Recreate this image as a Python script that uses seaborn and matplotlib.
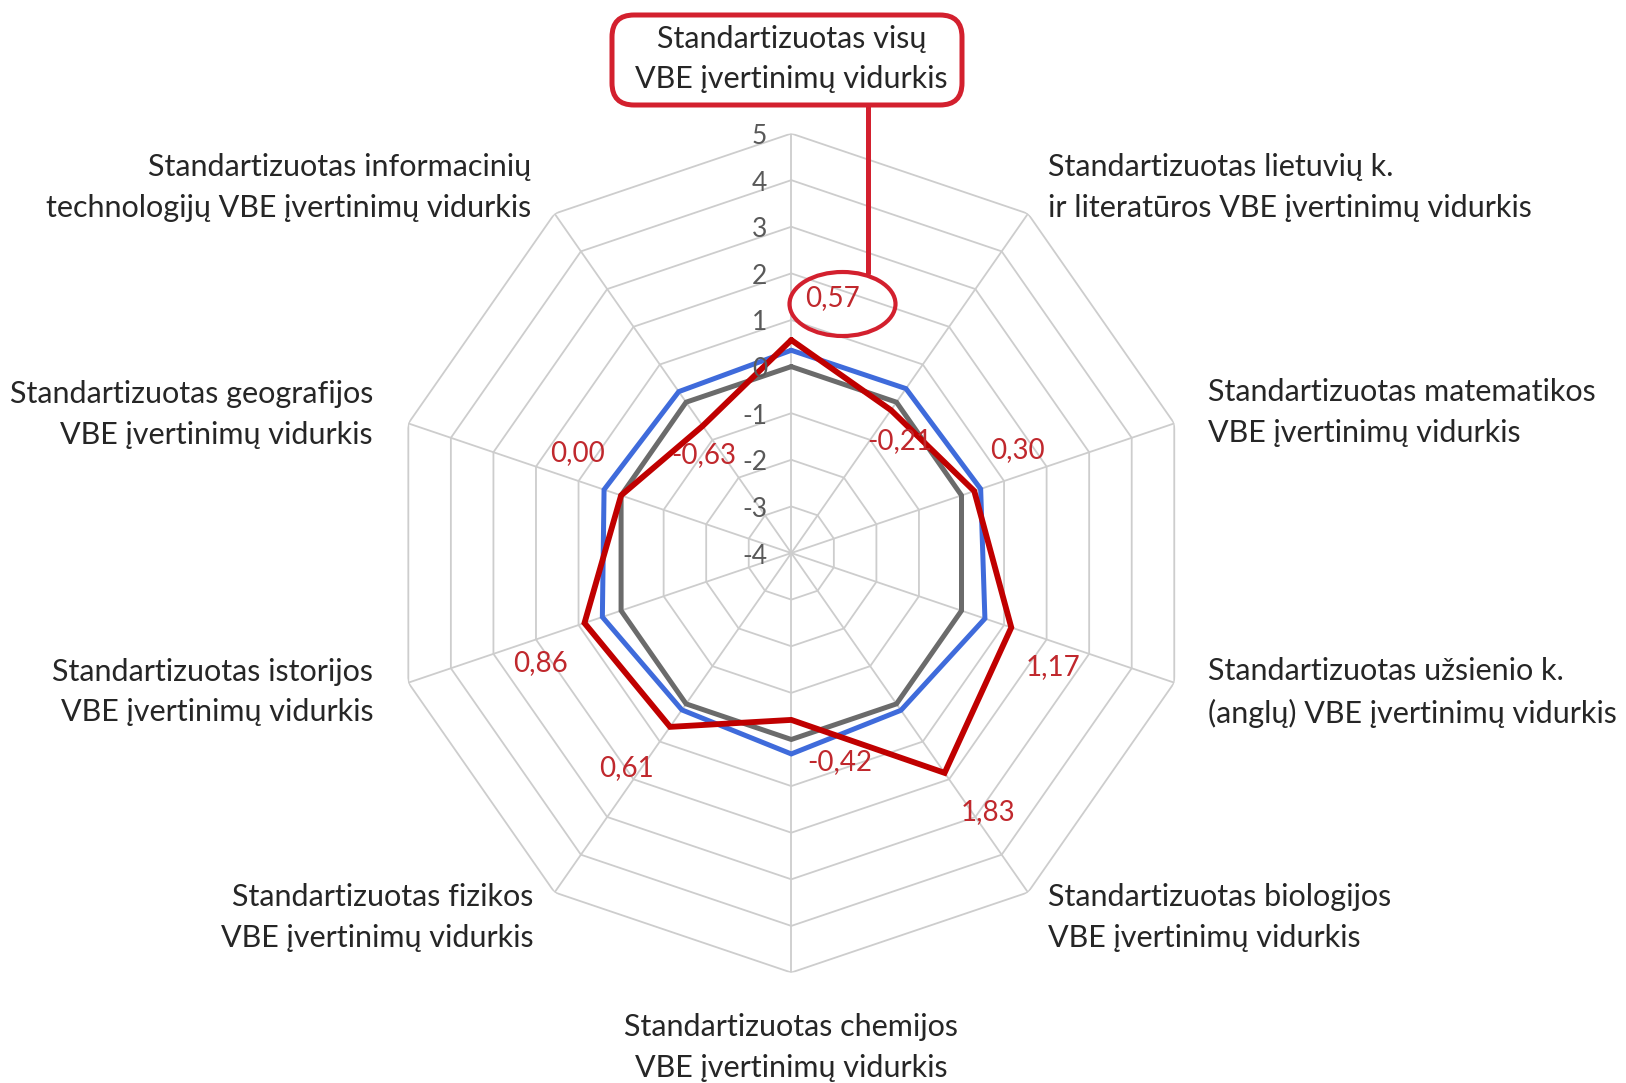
import numpy as np
import pandas as pd
import seaborn as sns
import matplotlib.pyplot as plt
from matplotlib.patches import Ellipse, FancyBboxPatch
from matplotlib.lines import Line2D

sns.set_theme(style="white")
plt.rcParams['font.family'] = ['Lato', 'DejaVu Sans']

# categories, clockwise from the top
categories = [
    "Standartizuotas visų\nVBE įvertinimų vidurkis",
    "Standartizuotas lietuvių k.\nir literatūros VBE įvertinimų vidurkis",
    "Standartizuotas matematikos\nVBE įvertinimų vidurkis",
    "Standartizuotas užsienio k.\n(anglų) VBE įvertinimų vidurkis",
    "Standartizuotas biologijos\nVBE įvertinimų vidurkis",
    "Standartizuotas chemijos\nVBE įvertinimų vidurkis",
    "Standartizuotas fizikos\nVBE įvertinimų vidurkis",
    "Standartizuotas istorijos\nVBE įvertinimų vidurkis",
    "Standartizuotas geografijos\nVBE įvertinimų vidurkis",
    "Standartizuotas informacinių\ntechnologijų VBE įvertinimų vidurkis",
]
gray_vals = [0.00, 0.00, 0.00, 0.00, 0.00, 0.00, 0.00, 0.00, 0.00, 0.00]
blue_vals = [0.35, 0.36, 0.45, 0.55, 0.17, 0.31, 0.16, 0.44, 0.40, 0.28]
red_vals = [0.57, -0.21, 0.30, 1.17, 1.83, -0.42, 0.61, 0.86, 0.00, -0.63]
r_ticks = [-4, -3, -2, -1, 0, 1, 2, 3, 4, 5]

# layout only: where the category labels and the value labels sit
label_pos = [(0, 6.60, 'center'), (36.2, 5.71, 'left'), (72.1, 5.79, 'left'),
             (107.8, 5.78, 'left'), (143.7, 5.70, 'left'), (180, 6.61, 'center'),
             (216.4, 5.72, 'right'), (252.3, 5.81, 'right'), (287.6, 5.81, 'right'),
             (323.4, 5.76, 'right')]
value_offsets = [(41, 42), (9, -31), (43, 41), (42, -40), (43, -39),
                 (48, -42), (-44, -41), (-44, -40), (-44, 42), (1, -29)]

n = len(categories)
theta = np.linspace(0, 2 * np.pi, n, endpoint=False)
theta_c = np.append(theta, theta[0] + 2 * np.pi)

W, H = 1626, 1083
fig = plt.figure(figsize=(W / 100, H / 100), dpi=100)
fig.patch.set_facecolor('white')
ax = fig.add_axes([0.2390, 0.1020, 0.4953, 0.7747], projection='polar')
ax.set_theta_zero_location('N')
ax.set_theta_direction(-1)
ax.set_ylim(-4, 5)
ax.set_aspect('auto')
ax.grid(False)
ax.set_xticks([])
ax.set_yticks([])
ax.spines['polar'].set_visible(False)
ax.patch.set_alpha(0)

grid_col = '#CDCDCD'
for lev in r_ticks[1:]:
    ax.plot(theta_c, [lev] * (n + 1), color=grid_col, lw=1.3, zorder=1)
for t in theta:
    ax.plot([t, t], [-4, 5], color=grid_col, lw=1.3, zorder=1)

# series
series = [('Lietuva', gray_vals, '#6B6B6B', 3.6),
          ('Savivaldybė', blue_vals, '#3F6BDB', 3.6),
          ('Mokykla', red_vals, '#C00000', 4.2)]
for name, vals, col, lw in series:
    df = pd.DataFrame({'theta': theta_c, 'value': np.append(vals, vals[0])})
    sns.lineplot(data=df, x='theta', y='value', ax=ax, sort=False, estimator=None,
                 color=col, lw=lw, solid_joinstyle='miter', zorder=3)
ax.set_xlabel('')
ax.set_ylabel('')

# radial tick labels along the top spoke
for v in r_ticks:
    ax.annotate(str(v), (0, v), xytext=(-24 * 0.72, -3 * 0.72), textcoords='offset points',
                ha='right', va='center', fontsize=19, color='#595959')

# value labels of the red series
for t, v, (dx, dy) in zip(theta, red_vals, value_offsets):
    ax.annotate(f"{v:.2f}".replace('.', ','), (t, v), xytext=(dx * 0.72, dy * 0.72),
                textcoords='offset points', ha='center', va='center',
                fontsize=20, color='#C0282D')

# category labels
for text, (deg, r, ha) in zip(categories, label_pos):
    ax.text(np.deg2rad(deg), r, text, ha=ha, va='center', fontsize=22,
            color='#262626', linespacing=1.55, clip_on=False)

# red highlight: box round the top label, ellipse round 0,57 and the connector
hl = '#D3202E'
box = FancyBboxPatch((6.12, (H - 105) / 100), 3.50, 0.90,
                     boxstyle='round,pad=0,rounding_size=0.22',
                     transform=fig.dpi_scale_trans, fill=False, ec=hl, lw=3.6)
fig.add_artist(box)
ell = Ellipse((8.425, (H - 304) / 100), 1.06, 0.64, transform=fig.dpi_scale_trans,
              fill=False, ec=hl, lw=3.0)
fig.add_artist(ell)
fig.add_artist(Line2D([8.68, 8.68], [(H - 105) / 100, (H - 273) / 100],
                      transform=fig.dpi_scale_trans, color=hl, lw=3.6))

fig.savefig('out.png', dpi=100, facecolor='white')
